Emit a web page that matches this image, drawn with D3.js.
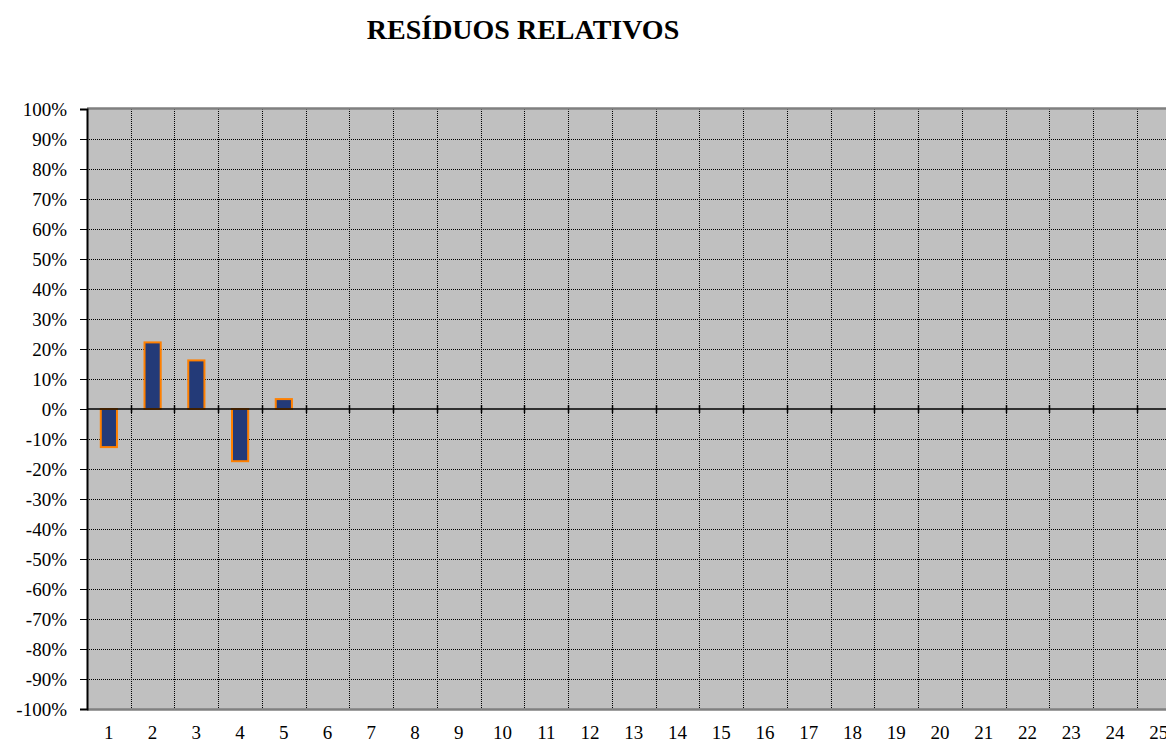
<!DOCTYPE html>
<meta charset="utf-8">
<head>
  <title>Resíduos relativos</title>
</head>

<style>
body {
  margin: 0;
  background: #fff;
  font-family: "Liberation Serif", serif;
}
svg text { font-family: "Liberation Serif", "DejaVu Serif", serif !important; }
.title { font-weight: bold; font-size: 28px; }
.tick text { fill: #000; }
</style>

<body>
  <svg id="chart" width="1166" height="744"></svg>

  <script src="https://cdnjs.cloudflare.com/ajax/libs/d3/7.8.5/d3.min.js"></script>
  <script>
  // categorias 1..25 e resíduos relativos (só os 5 primeiros têm valor)
  var categories = d3.range(1, 26);
  var residuals = [-0.127, 0.222, 0.162, -0.174, 0.033];
  var yTicks = d3.range(-10, 11).map(function(d) { return d / 10; });

  var plotLeft = 87, plotTop = 109, plotBottom = 709, band = 43.74;
  var plotRight = plotLeft + band * categories.length;
  var svg = d3.select('#chart');

  var x = d3.scaleBand()
    .domain(categories)
    .range([plotLeft, plotRight])
    .paddingInner(0.63)
    .paddingOuter(0.315);
  var xb = d3.scaleBand().domain(categories).range([plotLeft, plotRight]);
  var y = d3.scaleLinear().domain([-1, 1]).range([plotBottom, plotTop]);

  svg.append('text')
    .attr('class', 'title')
    .attr('x', 523).attr('y', 39)
    .attr('text-anchor', 'middle')
    .text('RESÍDUOS RELATIVOS');

  // área do gráfico
  svg.append('rect')
    .attr('x', plotLeft).attr('y', plotTop)
    .attr('width', plotRight - plotLeft).attr('height', plotBottom - plotTop)
    .attr('fill', '#c0c0c0');

  var g = svg.append('g');

  // grade horizontal
  g.selectAll('line.h')
    .data(yTicks.filter(function(d) { return d !== -1 && d !== 1 && d !== 0; }))
    .enter().append('line')
    .attr('x1', plotLeft).attr('x2', plotRight)
    .attr('y1', function(d) { return Math.round(y(d)) + 0.5; })
    .attr('y2', function(d) { return Math.round(y(d)) + 0.5; })
    .attr('stroke', '#000').attr('stroke-dasharray', '1,1');

  // grade vertical
  g.selectAll('line.v')
    .data(categories.slice(1))
    .enter().append('line')
    .attr('x1', function(d) { return Math.round(xb(d)) + 0.5; })
    .attr('x2', function(d) { return Math.round(xb(d)) + 0.5; })
    .attr('y1', plotTop).attr('y2', plotBottom)
    .attr('stroke', '#000').attr('stroke-dasharray', '1,1');

  // bordas superior/inferior
  g.append('line').attr('x1', plotLeft).attr('x2', plotRight).attr('y1', plotTop - 0.5).attr('y2', plotTop - 0.5)
    .attr('stroke', '#808080').attr('stroke-width', 2.5);
  g.append('line').attr('x1', plotLeft).attr('x2', plotRight).attr('y1', plotBottom + 0.5).attr('y2', plotBottom + 0.5)
    .attr('stroke', '#808080').attr('stroke-width', 2.5);

  // barras
  g.selectAll('rect.bar')
    .data(residuals)
    .enter().append('rect')
    .attr('x', function(d, i) { return x(categories[i]); })
    .attr('width', x.bandwidth())
    .attr('y', function(d) { return y(Math.max(0, d)); })
    .attr('height', function(d) { return Math.abs(y(d) - y(0)); })
    .attr('fill', '#233a78')
    .attr('stroke', '#ff8000')
    .attr('stroke-width', 2);

  // linha do zero com marcas
  g.append('line').attr('x1', plotLeft).attr('x2', plotRight)
    .attr('y1', y(0)).attr('y2', y(0))
    .attr('stroke', '#000').attr('stroke-width', 1.5);
  g.selectAll('line.xt')
    .data(categories.slice(1))
    .enter().append('line')
    .attr('x1', function(d) { return Math.round(xb(d)) + 0.5; })
    .attr('x2', function(d) { return Math.round(xb(d)) + 0.5; })
    .attr('y1', y(0) - 4).attr('y2', y(0) + 4)
    .attr('stroke', '#000').attr('stroke-width', 1.5);

  // eixo y
  var pct = function(d) { return Math.round(d * 100) + '%'; };
  var yAxis = svg.append('g')
    .attr('transform', 'translate(' + plotLeft + ',0)')
    .call(d3.axisLeft(y).tickValues(yTicks).tickFormat(pct).tickSize(7).tickPadding(13));
  yAxis.attr('font-size', 19);
  yAxis.select('.domain').attr('stroke', '#000').attr('stroke-width', 2);
  yAxis.selectAll('.tick line').attr('stroke', '#000');

  // rótulos x
  var xAxis = svg.append('g')
    .attr('transform', 'translate(0,' + plotBottom + ')')
    .call(d3.axisBottom(xb).tickSize(0).tickPadding(17));
  xAxis.attr('font-size', 19);
  xAxis.select('.domain').remove();
  </script>
</body>
</html>
